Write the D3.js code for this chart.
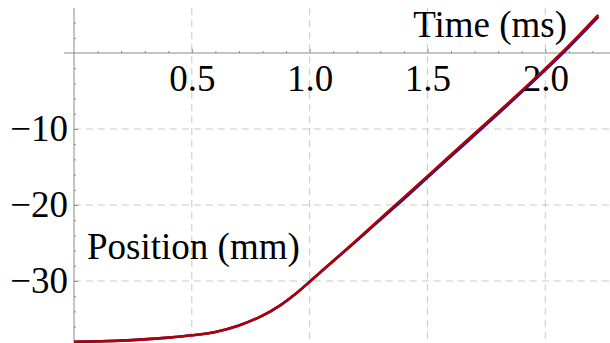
<!DOCTYPE html>
<html>
<head>
<meta charset="utf-8">
<script src="https://cdn.jsdelivr.net/npm/d3@7"></script>
<style>
  html, body { margin: 0; padding: 0; background: #fff; }
  svg { display: block; }
</style>
</head>
<body>
<div id="chart"></div>
<script>
// time (ms) and position (mm)
const time = [0, 0.2, 0.4, 0.5, 0.6, 0.7, 0.8, 0.875, 0.95, 1.0, 1.1, 1.2, 1.3, 1.4, 1.5, 1.6, 1.7, 1.8, 1.9, 2.0, 2.1, 2.225];
const posRed = [-38.0, -37.85, -37.45, -37.15, -36.7, -35.85, -34.55, -33.2, -31.45, -30.1, -27.35, -24.6, -21.8, -19.0, -16.2, -13.4, -10.6, -7.8, -4.95, -2.05, 0.95, 5.0];
const posBlue = [-38.0, -37.85, -37.45, -37.15, -36.7, -35.85, -34.55, -33.2, -31.45, -30.1, -27.4, -24.7, -21.95, -19.2, -16.4, -13.6, -10.8, -8.0, -5.15, -2.25, 0.75, 4.75];

const xTicks = [0.5, 1.0, 1.5, 2.0];
const yTicks = [-10, -20, -30];
const xMinor = [0.1, 0.2, 0.3, 0.4, 0.6, 0.7, 0.8, 0.9, 1.1, 1.2, 1.3, 1.4, 1.6, 1.7, 1.8, 1.9, 2.1, 2.2];
const yMinor = [4, 2, -2, -4, -6, -8, -12, -14, -16, -18, -22, -24, -26, -28, -32, -34, -36];

const W = 610, H = 343;
const font = "'Liberation Serif', 'Times New Roman', serif";

const x = d3.scaleLinear().domain([0, 2.25]).range([74, 604.2]);
const y = d3.scaleLinear().domain([6, -38.2]).range([7.4, 343.3]);

const svg = d3.select("#chart").append("svg")
  .attr("width", W)
  .attr("height", H);

// grid
svg.append("g")
  .selectAll("line")
  .data(xTicks)
  .enter().append("line")
  .attr("x1", d => x(d)).attr("x2", d => x(d))
  .attr("y1", 8).attr("y2", H)
  .attr("stroke", "#c8c8c8")
  .attr("stroke-dasharray", "7,5");

svg.append("g")
  .selectAll("line")
  .data(yTicks)
  .enter().append("line")
  .attr("x1", x(0)).attr("x2", W)
  .attr("y1", d => y(d)).attr("y2", d => y(d))
  .attr("stroke", "#c8c8c8")
  .attr("stroke-dasharray", "7,5");

// axes lines
svg.append("line")
  .attr("x1", 64).attr("x2", W)
  .attr("y1", y(0)).attr("y2", y(0))
  .attr("stroke", "#8a8a8a");
svg.append("line")
  .attr("x1", x(0)).attr("x2", x(0))
  .attr("y1", 8).attr("y2", H)
  .attr("stroke", "#8a8a8a");

// minor ticks
svg.append("g")
  .attr("transform", `translate(0,${y(0)})`)
  .call(d3.axisTop(x).tickValues(xMinor).tickSize(2).tickFormat(""))
  .call(g => g.select(".domain").remove())
  .selectAll("line").attr("stroke", "#8a8a8a");
svg.append("g")
  .attr("transform", `translate(${x(0)},0)`)
  .call(d3.axisRight(y).tickValues(yMinor).tickSize(2).tickFormat(""))
  .call(g => g.select(".domain").remove())
  .selectAll("line").attr("stroke", "#8a8a8a");

// major ticks + labels
const xAxis = svg.append("g")
  .attr("transform", `translate(0,${y(0)})`)
  .call(d3.axisBottom(x).tickValues(xTicks).tickSizeInner(-4).tickSizeOuter(0)
    .tickPadding(12).tickFormat(d3.format(".1f")));
xAxis.select(".domain").remove();
xAxis.selectAll("line").attr("stroke", "#8a8a8a");
xAxis.selectAll("text")
  .attr("fill", "#000")
  .style("font-family", font)
  .style("font-size", "37px");

const yAxis = svg.append("g")
  .attr("transform", `translate(${x(0)},0)`)
  .call(d3.axisLeft(y).tickValues(yTicks).tickSizeInner(-4).tickSizeOuter(0)
    .tickPadding(6));
yAxis.select(".domain").remove();
yAxis.selectAll("line").attr("stroke", "#8a8a8a");
yAxis.selectAll("text")
  .attr("fill", "#000")
  .style("font-family", font)
  .style("font-size", "37px");

// axis titles
svg.append("text")
  .attr("x", 567).attr("y", 37)
  .attr("text-anchor", "end")
  .style("font-family", font)
  .style("font-size", "37px")
  .text("Time (ms)");

svg.append("text")
  .attr("x", 87).attr("y", 259)
  .style("font-family", font)
  .style("font-size", "37px")
  .text("Position (mm)");

// curves
const line = d3.line()
  .x(d => x(d[0]))
  .y(d => y(d[1]))
  .curve(d3.curveCatmullRom.alpha(0.5));

svg.append("path")
  .datum(time.map((t, i) => [t, posBlue[i]]))
  .attr("d", line)
  .attr("fill", "none")
  .attr("stroke", "#1010b0")
  .attr("stroke-width", 2.6);

svg.append("path")
  .datum(time.map((t, i) => [t, posRed[i]]))
  .attr("d", line)
  .attr("fill", "none")
  .attr("stroke", "#b00000")
  .attr("stroke-width", 2.6);
</script>
</body>
</html>
